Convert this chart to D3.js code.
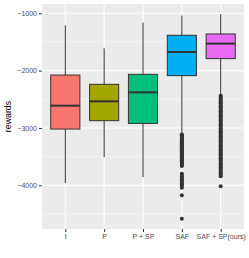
<!DOCTYPE html>
<html>
<head>
<meta charset="utf-8">
<script src="https://cdn.jsdelivr.net/npm/d3@7"></script>
<style>
  body { margin: 0; background: #fff; }
  svg { display: block; font-family: "Liberation Sans", Arial, sans-serif; }
</style>
</head>
<body>
<div id="chart"></div>
<script>
// -----------------------------
// data
// -----------------------------

const methods = ['I', 'P', 'P + SP', 'SAF', 'SAF + SP(ours)']
const colours = ['#F8766D', '#A3A500', '#00BF7D', '#00B0F6', '#E76BF3']

const whiskerHigh = [-1209, -1611, -1163, -1040, -1017]
const q3 = [-2077, -2239, -2065, -1384, -1361]
const medians = [-2611, -2536, -2379, -1675, -1529]
const q1 = [-3019, -2873, -2920, -2088, -1791]
const whiskerLow = [-3961, -3508, -3856, -3100, -2420]

const outliersSAF = [
    -3115, -3128, -3140, -3158, -3170, -3185, -3204, -3220, -3236, -3251,
    -3270, -3288, -3302, -3320, -3341, -3356, -3372, -3390, -3408, -3425,
    -3444, -3462, -3480, -3497, -3515, -3533, -3550, -3568, -3590, -3610,
    -3628, -3645, -3662,
    -3800, -3822, -3846, -3870, -3893, -3915, -3940, -3962, -3985, -4010, -4040,
    -4171, -4583
]
const outliersSAFSP = [
    -2440, -2462, -2485, -2506, -2530, -2551, -2575, -2598, -2620, -2641,
    -2665, -2688, -2710, -2732, -2755, -2778, -2800, -2822, -2845, -2868,
    -2890, -2912, -2935, -2958, -2978, -3010, -3032, -3055, -3078, -3100,
    -3122, -3145, -3168, -3190, -3212, -3235, -3258, -3280, -3302, -3325,
    -3348, -3370, -3392, -3415, -3438, -3460, -3482, -3505, -3528, -3550,
    -3572, -3595, -3618, -3640, -3662, -3685, -3708, -3730, -3752, -3775,
    -3798, -3820, -3840,
    -4014
]
const outliers = [[], [], [], outliersSAF, outliersSAFSP]

const yTicks = [-4000, -3000, -2000, -1000]
const yMinor = [-4500, -3500, -2500, -1500]

// -----------------------------
// layout
// -----------------------------

const w = 249
const h = 258
const panel = {left: 42, right: 244, top: 4, bottom: 229}

const rows = methods.map((m, i) => ({
    name: m,
    colour: colours[i],
    hi: whiskerHigh[i],
    q3: q3[i],
    med: medians[i],
    q1: q1[i],
    lo: whiskerLow[i],
    out: outliers[i]
}))

// ggplot style expansion: 5% on y, 0.6 units on discrete x
const allVals = rows.flatMap(d => [d.hi, d.lo, ...d.out])
const ext = d3.extent(allVals)
const pad = (ext[1] - ext[0]) * 0.05

const yScale = d3.scaleLinear()
    .domain([ext[0] - pad, ext[1] + pad])
    .range([panel.bottom, panel.top])

const xScale = d3.scaleLinear()
    .domain([0.4, methods.length + 0.6])
    .range([panel.left, panel.right])

const boxW = 0.75 * (xScale(2) - xScale(1))

const svg = d3.select('#chart')
    .append('svg')
    .attr('width', w)
    .attr('height', h)

// panel background
svg.append('rect')
    .attr('x', panel.left)
    .attr('y', panel.top)
    .attr('width', panel.right - panel.left)
    .attr('height', panel.bottom - panel.top)
    .attr('fill', '#EBEBEB')

// grid lines
const grid = svg.append('g')

grid.selectAll('line.minor')
    .data(yMinor)
    .enter()
    .append('line')
    .attr('x1', panel.left)
    .attr('x2', panel.right)
    .attr('y1', d => yScale(d))
    .attr('y2', d => yScale(d))
    .attr('stroke', '#fff')
    .attr('stroke-width', 0.5)

grid.selectAll('line.major')
    .data(yTicks)
    .enter()
    .append('line')
    .attr('x1', panel.left)
    .attr('x2', panel.right)
    .attr('y1', d => yScale(d))
    .attr('y2', d => yScale(d))
    .attr('stroke', '#fff')
    .attr('stroke-width', 1.1)

grid.selectAll('line.vert')
    .data(methods)
    .enter()
    .append('line')
    .attr('x1', (d, i) => xScale(i + 1))
    .attr('x2', (d, i) => xScale(i + 1))
    .attr('y1', panel.top)
    .attr('y2', panel.bottom)
    .attr('stroke', '#fff')
    .attr('stroke-width', 1.1)

// axes
const fmt = d => d3.format('d')(d).replace('-', '\u2212')

const yAxis = d3.axisLeft(yScale)
    .tickValues(yTicks)
    .tickFormat(fmt)
    .tickSize(3)
    .tickPadding(2)

const xAxis = d3.axisBottom(xScale)
    .tickValues(d3.range(1, methods.length + 1))
    .tickFormat(d => methods[d - 1])
    .tickSize(3)
    .tickPadding(2)

svg.append('g')
    .attr('transform', 'translate(' + panel.left + ',0)')
    .call(yAxis)
    .call(g => g.select('.domain').remove())

svg.append('g')
    .attr('transform', 'translate(0,' + panel.bottom + ')')
    .call(xAxis)
    .call(g => g.select('.domain').remove())

svg.selectAll('.tick line').attr('stroke', '#333333').attr('stroke-width', 1)
svg.selectAll('.tick text')
    .attr('fill', '#4D4D4D')
    .style('font-size', '7px')
    .style('font-family', '"Liberation Sans", Arial, sans-serif')

svg.append('text')
    .attr('transform', 'translate(11,' + (panel.top + panel.bottom) / 2 + ') rotate(-90)')
    .attr('text-anchor', 'middle')
    .attr('fill', '#000')
    .style('font-size', '8.8px')
    .text('rewards')

// -----------------------------
// boxes
// -----------------------------

const boxes = svg.append('g')
    .selectAll('g.box')
    .data(rows)
    .enter()
    .append('g')
    .attr('class', 'box')

const cx = (d, i) => xScale(i + 1)

boxes.append('line')
    .attr('x1', cx).attr('x2', cx)
    .attr('y1', d => yScale(d.hi))
    .attr('y2', d => yScale(d.q3))
    .attr('stroke', '#333333')
    .attr('stroke-width', 1)

boxes.append('line')
    .attr('x1', cx).attr('x2', cx)
    .attr('y1', d => yScale(d.q1))
    .attr('y2', d => yScale(d.lo))
    .attr('stroke', '#333333')
    .attr('stroke-width', 1)

boxes.append('rect')
    .attr('x', (d, i) => cx(d, i) - boxW / 2)
    .attr('y', d => yScale(d.q3))
    .attr('width', boxW)
    .attr('height', d => yScale(d.q1) - yScale(d.q3))
    .attr('fill', d => d.colour)
    .attr('stroke', '#333333')
    .attr('stroke-width', 1)

boxes.append('line')
    .attr('x1', (d, i) => cx(d, i) - boxW / 2)
    .attr('x2', (d, i) => cx(d, i) + boxW / 2)
    .attr('y1', d => yScale(d.med))
    .attr('y2', d => yScale(d.med))
    .attr('stroke', '#333333')
    .attr('stroke-width', 2)

boxes.each(function (d, i) {
    d3.select(this)
        .selectAll('circle.out')
        .data(d.out)
        .enter()
        .append('circle')
        .attr('class', 'out')
        .attr('cx', xScale(i + 1))
        .attr('cy', v => yScale(v))
        .attr('r', 2)
        .attr('fill', '#333333')
})
</script>
</body>
</html>
